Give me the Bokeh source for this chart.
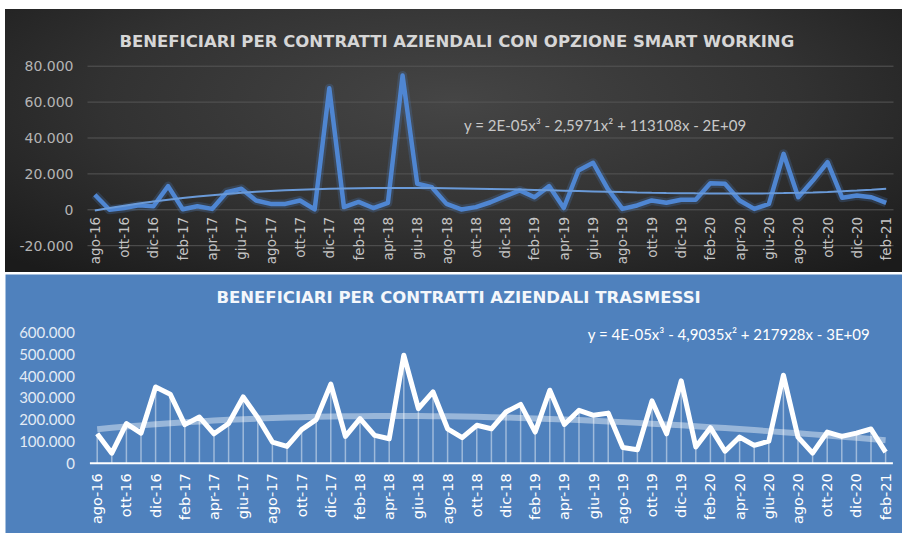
import numpy as np
from math import pi
from bokeh.plotting import figure
from bokeh.layouts import column
from bokeh.models import ColumnDataSource, LabelSet, Label, Range1d
from bokeh.core.properties import value
from bokeh.embed import file_html
from bokeh.resources import INLINE

# ---------------- data ----------------
months = [
    "ago-16", "set-16", "ott-16", "nov-16", "dic-16",
    "gen-17", "feb-17", "mar-17", "apr-17", "mag-17", "giu-17", "lug-17", "ago-17", "set-17", "ott-17", "nov-17", "dic-17",
    "gen-18", "feb-18", "mar-18", "apr-18", "mag-18", "giu-18", "lug-18", "ago-18", "set-18", "ott-18", "nov-18", "dic-18",
    "gen-19", "feb-19", "mar-19", "apr-19", "mag-19", "giu-19", "lug-19", "ago-19", "set-19", "ott-19", "nov-19", "dic-19",
    "gen-20", "feb-20", "mar-20", "apr-20", "mag-20", "giu-20", "lug-20", "ago-20", "set-20", "ott-20", "nov-20", "dic-20",
    "gen-21", "feb-21",
]

smart_working = [
    8400, 0, 1000, 2500, 2000, 13200, 300, 2000, 500, 9800, 11700, 5200, 3300, 3300, 5200, 200, 67700,
    1500, 4400, 1000, 3900, 74800, 14500, 12600, 3300, 200, 1500, 4200, 7600,
    10800, 7000, 13200, 1000, 21900, 26200, 11700, 500, 2400, 5200, 3900, 5600,
    5600, 14800, 14500, 5200, 500, 3300, 31200, 7000, 16300, 26500, 6700, 8000,
    7000, 3900,
]

trasmessi = [
    135000, 46000, 182000, 138000, 350000, 317000, 177000, 212000, 135000, 182000, 304000, 209000, 97000, 77000, 154000, 200000, 363000,
    123000, 205000, 128000, 112000, 496000, 251000, 327000, 158000, 117000, 174000, 158000, 235000,
    270000, 143000, 335000, 178000, 243000, 220000, 230000, 72000, 62000, 286000, 135000, 378000,
    74000, 163000, 55000, 120000, 82000, 101000, 404000, 120000, 46000, 143000, 123000, 138000,
    157000, 51000,
]

top_ticks = [-20000, 0, 20000, 40000, 60000, 80000]
top_tick_labels = ["-20.000", "0", "20.000", "40.000", "60.000", "80.000"]
bottom_ticks = [0, 100000, 200000, 300000, 400000, 500000, 600000]
bottom_tick_labels = ["0", "100.000", "200.000", "300.000", "400.000", "500.000", "600.000"]

title_top = "BENEFICIARI PER CONTRATTI AZIENDALI CON OPZIONE SMART WORKING"
title_bottom = "BENEFICIARI PER CONTRATTI AZIENDALI TRASMESSI"
eq_top = "y = 2E-05x\u00b3 - 2,5971x\u00b2 + 113108x - 2E+09"
eq_bottom = "y = 4E-05x\u00b3 - 4,9035x\u00b2 + 217928x - 3E+09"

# ---------------- helpers ----------------
def ranges(size_w, size_h, x_lo, x_hi, px_l, px_r, y_lo, y_hi, px_t, px_b):
    """Extend axis ranges so that the plot area (px_*) maps to the given data extent
    while the frame covers the whole figure."""
    sx = (x_hi - x_lo) / (px_r - px_l)
    sy = (y_hi - y_lo) / (px_b - px_t)
    xr = Range1d(x_lo - px_l * sx, x_hi + (size_w - px_r) * sx)
    yr = Range1d(y_lo - (size_h - px_b) * sy, y_hi + px_t * sy)
    return xr, yr

n = len(months)
idx = np.arange(n)
x_lo, x_hi = -0.5, n - 0.5
trend_top = np.polyval(np.polyfit(idx, smart_working, 3), idx)
trend_bottom = np.polyval(np.polyfit(idx, trasmessi, 3), idx)

src_top = ColumnDataSource(dict(x=idx, y=smart_working, t=trend_top))
src_bot = ColumnDataSource(dict(x=idx, y=trasmessi, t=trend_bottom, z=np.zeros(n)))
lab_src = ColumnDataSource(dict(x=idx[::2], y=np.zeros(len(idx[::2])), text=months[::2]))

def bare(p):
    p.xaxis.visible = False
    p.yaxis.visible = False
    p.xgrid.visible = False
    p.ygrid.visible = False

# ---------------- top chart ----------------
W1, H1 = 897, 263
xr1, yr1 = ranges(W1, H1, x_lo, x_hi, 82, 888, top_ticks[0], top_ticks[-1], 56.7, 236.2)
p1 = figure(width=W1, height=H1, x_range=xr1, y_range=yr1,
            output_backend="svg", toolbar_location=None, min_border=0,
            border_fill_color=None, background_fill_color=None, outline_line_color=None)
p1.margin = (9, 1, 0, 5)
p1.styles = {"background": "radial-gradient(ellipse 70% 85% at 50% 35%, #454545 0%, #323232 55%, #1b1b1b 100%)"}
bare(p1)

grid1 = ColumnDataSource(dict(x0=[x_lo] * len(top_ticks), x1=[x_hi] * len(top_ticks), y=top_ticks,
                              text=top_tick_labels))
p1.segment(x0="x0", y0="y", x1="x1", y1="y", source=grid1, line_color="#565656", line_width=1)
p1.add_layout(LabelSet(x="x0", y="y", text="text", source=grid1, x_offset=-14,
                       text_align="right", text_baseline="middle",
                       text_font=value("DejaVu Sans"), text_font_size=value("14px"),
                       text_color="#b4b4b4"))

p1.line("x", "y", source=src_top, line_color="#4f86cf", line_width=9, line_alpha=0.22, line_join="round")
p1.line("x", "y", source=src_top, line_color="#4f86d2", line_width=4.5, line_join="round")
p1.line("x", "t", source=src_top, line_color="#6a9ad8", line_width=2)

p1.add_layout(LabelSet(x="x", y="y", text="text", source=lab_src, angle=pi / 2,
                       text_align="right", text_baseline="middle", y_offset=-7,
                       text_font=value("DejaVu Sans"), text_font_size=value("13.5px"),
                       text_color="#c4c4c4"))
p1.add_layout(Label(x=24.7, y=93700, text=title_top, text_align="center", text_baseline="middle",
                    text_font="DejaVu Sans", text_font_style="bold", text_font_size="16.5px",
                    text_color="#d6d6d6"))
p1.add_layout(Label(x=25.2, y=47500, text=eq_top, text_align="left", text_baseline="middle",
                    text_font="Lato", text_font_size="15px", text_color="#c8c8c8"))

# ---------------- bottom chart ----------------
W2, H2 = 897, 259
xr2, yr2 = ranges(W2, H2, x_lo, x_hi, 84.4, 887.4, bottom_ticks[0], bottom_ticks[-1], 58, 188.7)
p2 = figure(width=W2, height=H2, x_range=xr2, y_range=yr2,
            output_backend="svg", toolbar_location=None, min_border=0,
            border_fill_color="#4f81bd", background_fill_color="#4f81bd", outline_line_color=None)
p2.margin = (2, 1, 0, 5)
bare(p2)

ylab2 = ColumnDataSource(dict(x=[x_lo] * len(bottom_ticks), y=bottom_ticks, text=bottom_tick_labels))
p2.add_layout(LabelSet(x="x", y="y", text="text", source=ylab2, x_offset=-15,
                       text_align="right", text_baseline="middle",
                       text_font=value("Lato"), text_font_size=value("15px"),
                       text_color="#e3ebf5"))

p2.segment(x0="x", y0="z", x1="x", y1="y", source=src_bot, line_color="white", line_width=1.5, line_alpha=0.45)
p2.line("x", "t", source=src_bot, line_color="white", line_width=6, line_alpha=0.42)
p2.line("x", "y", source=src_bot, line_color="white", line_width=5, line_join="round")
p2.segment(x0=[x_lo], y0=[bottom_ticks[0]], x1=[x_hi], y1=[bottom_ticks[0]], line_color="white", line_width=2)

p2.add_layout(LabelSet(x="x", y="y", text="text", source=lab_src, angle=pi / 2,
                       text_align="right", text_baseline="middle", y_offset=-10,
                       text_font=value("DejaVu Sans"), text_font_size=value("14.5px"),
                       text_color="#ffffff"))
p2.add_layout(Label(x=24.75, y=759000, text=title_bottom, text_align="center", text_baseline="middle",
                    text_font="DejaVu Sans", text_font_style="bold", text_font_size="16.5px",
                    text_color="#f4f7fb"))
p2.add_layout(Label(x=33.6, y=593000, text=eq_bottom, text_align="left", text_baseline="middle",
                    text_font="Lato", text_font_size="15px", text_color="#ffffff"))

layout = column(p1, p2, spacing=0)
open("out.html", "w").write(file_html(layout, INLINE))
